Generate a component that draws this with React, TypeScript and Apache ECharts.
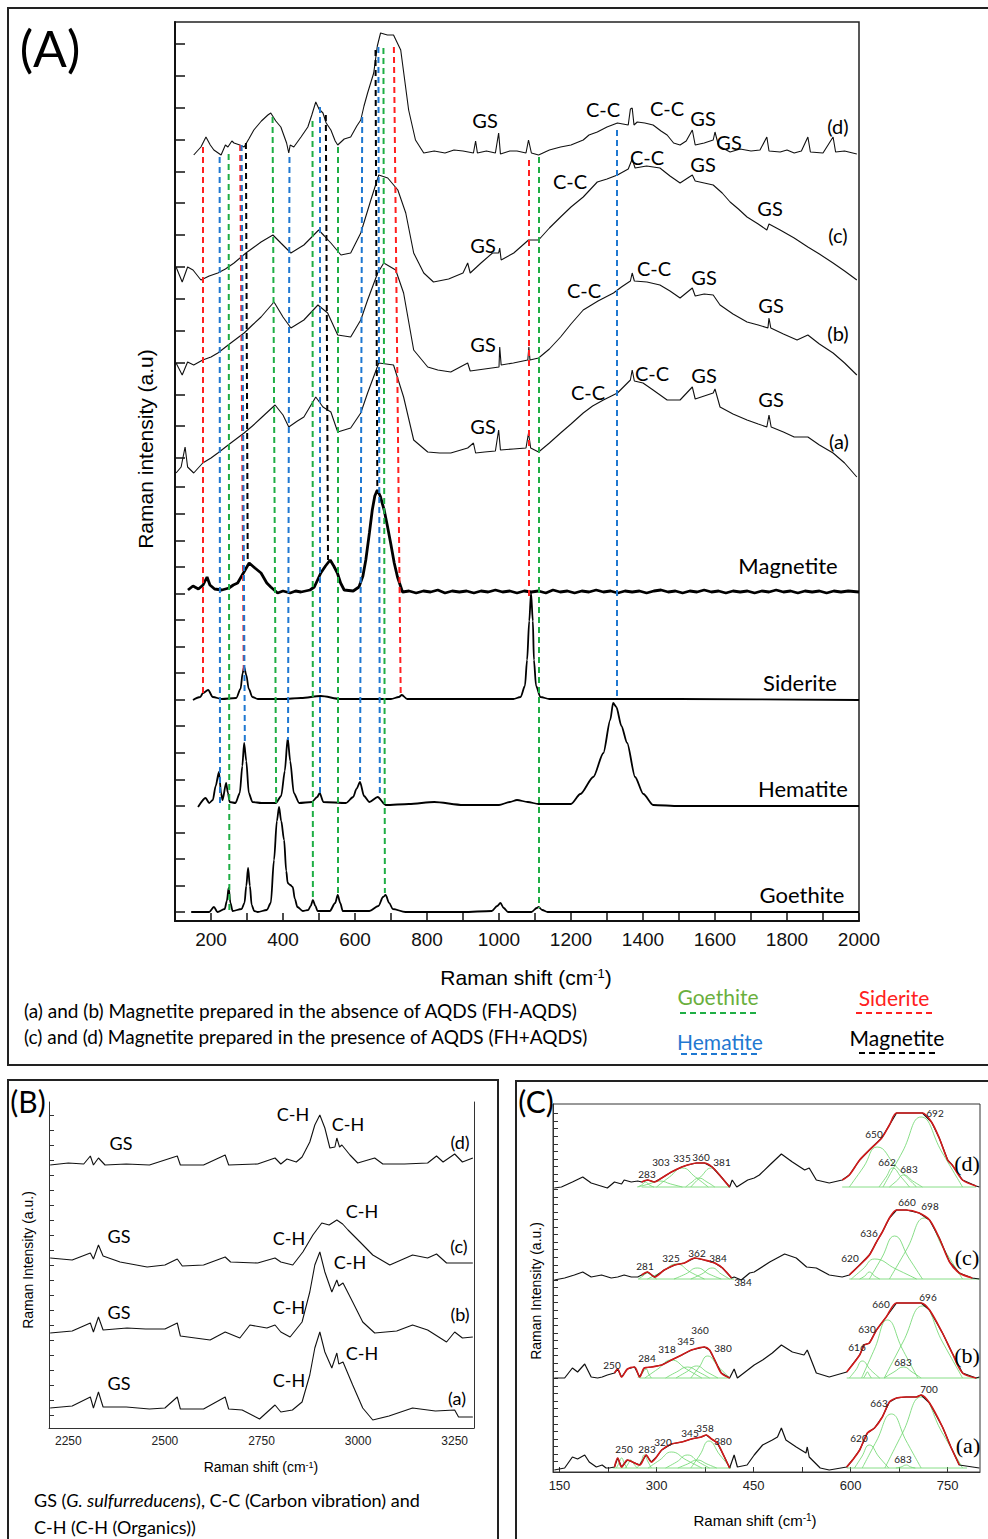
import React, { useEffect, useRef } from "react";
import * as echarts from "echarts";

// ---------------- Panel A: spectra (Raman shift cm-1, offset intensity a.u.) ----------------
const specA_d = [[152,766],[172,774],[186,784],[198,776],[208,771],[228,766],[240,776],[247,774],[258,780],[264,778],[280,776],[292,774],[305,782],[319,791],[340,800],[358,806],[366,808],[380,800],[394,794],[410,778],[416,768],[420,776],[430,774],[450,784],[469,794],[480,806],[491,819],[500,812],[511,808],[520,798],[533,791],[545,780],[552,776],[570,782],[588,784],[605,795],[616,801],[625,815],[635,828],[652,848],[662,875],[671,888],[690,886],[707,886],[727,871],[749,811],[768,781],[791,768],[820,770],[850,768],[875,771],[900,770],[929,768],[935,780],[940,768],[965,770],[990,768],[999,788],[1004,767],[1030,770],[1050,770],[1075,768],[1082,781],[1090,768],[1110,766],[1140,771],[1171,774],[1200,776],[1234,781],[1250,786],[1273,789],[1300,794],[1329,798],[1359,796],[1365,812],[1370,813],[1375,796],[1384,799],[1405,798],[1428,796],[1450,790],[1467,786],[1485,778],[1503,776],[1520,780],[1537,791],[1545,776],[1570,778],[1595,781],[1600,789],[1610,775],[1642,769],[1670,772],[1700,770],[1725,771],[1744,784],[1750,770],[1781,769],[1800,771],[1820,768],[1840,770],[1858,784],[1865,769],[1900,768],[1928,784],[1935,769],[1960,770],[1994,767]];
const specA_c = [[103,654],[120,639],[135,654],[150,651],[172,641],[195,645],[219,648],[240,652],[264,658],[297,668],[320,674],[339,679],[372,686],[394,678],[422,668],[440,672],[458,676],[480,684],[499,691],[515,685],[533,678],[561,666],[588,668],[616,688],[644,721],[666,746],[691,743],[719,731],[741,708],[763,668],[791,648],[818,639],[860,642],[900,648],[913,658],[920,648],[950,658],[982,668],[999,668],[1002,673],[1006,661],[1041,668],[1082,681],[1110,681],[1140,693],[1171,704],[1200,714],[1234,724],[1273,739],[1300,742],[1329,746],[1359,752],[1370,762],[1378,753],[1410,755],[1447,753],[1475,745],[1503,738],[1537,746],[1545,740],[1570,738],[1595,736],[1620,728],[1642,719],[1665,712],[1689,704],[1720,697],[1744,691],[1750,697],[1781,691],[1820,683],[1858,674],[1890,667],[1928,658],[1960,650],[1994,641]];
const specA_b = [[103,558],[120,546],[135,559],[152,556],[177,561],[200,564],[219,568],[255,578],[292,588],[315,596],[339,604],[375,619],[400,604],[422,593],[440,597],[458,601],[497,616],[524,608],[552,586],[570,585],[588,584],[616,601],[635,621],[663,648],[680,658],[713,651],[735,628],[763,571],[802,554],[830,551],[866,549],[913,558],[920,550],[960,552],[1000,554],[1002,574],[1006,556],[1040,558],[1080,561],[1083,574],[1086,561],[1110,563],[1140,572],[1171,584],[1200,597],[1234,611],[1275,620],[1318,628],[1340,634],[1365,640],[1370,648],[1376,640],[1411,639],[1447,636],[1475,630],[1503,623],[1537,633],[1545,625],[1570,627],[1595,626],[1614,616],[1650,607],[1689,599],[1720,596],[1747,593],[1750,603],[1755,593],[1790,587],[1828,581],[1858,586],[1890,577],[1928,568],[1960,558],[1994,546]];
const specA_a = [[103,448],[117,454],[128,474],[135,454],[152,448],[177,458],[200,463],[219,468],[255,478],[292,488],[315,495],[339,503],[378,516],[400,506],[416,494],[440,500],[458,504],[491,524],[511,514],[533,509],[552,489],[570,491],[588,493],[616,508],[635,528],[666,558],[707,556],[735,524],[763,481],[802,469],[835,468],[866,468],[913,473],[929,478],[935,468],[960,469],[990,470],[999,491],[1004,471],[1040,472],[1075,473],[1082,488],[1088,473],[1110,469],[1140,478],[1171,488],[1200,497],[1234,508],[1260,515],[1290,521],[1329,528],[1365,541],[1370,551],[1376,540],[1400,538],[1428,531],[1467,521],[1503,521],[1537,534],[1545,522],[1570,525],[1595,528],[1600,532],[1614,514],[1650,507],[1689,501],[1720,497],[1744,494],[1750,506],[1756,494],[1790,489],[1820,484],[1858,484],[1890,476],[1928,468],[1960,458],[1994,444]];
const magnetite = [[136,331],[150,335],[165,332],[178,336],[189,344],[197,336],[210,332],[230,331],[250,333],[262,336],[274,338],[290,348],[306,358],[322,353],[339,348],[355,338],[366,334],[385,328],[400,330],[420,328],[435,330],[450,329],[475,331],[487,334],[505,348],[518,355],[531,361],[541,355],[551,348],[560,338],[570,331],[595,330],[611,334],[622,345],[630,361],[640,388],[648,411],[655,425],[662,431],[670,425],[681,411],[690,395],[699,378],[709,358],[718,344],[732,329],[750,330],[770,328],[790,330],[810,329],[830,331],[850,328],[870,330],[890,329],[910,330],[930,328],[950,330],[970,329],[990,331],[1010,329],[1030,330],[1050,328],[1070,330],[1090,329],[1110,330],[1130,328],[1150,331],[1170,329],[1190,330],[1210,328],[1230,330],[1250,329],[1270,331],[1290,329],[1310,330],[1330,328],[1350,330],[1370,329],[1390,330],[1410,328],[1430,330],[1450,331],[1470,329],[1490,330],[1510,328],[1530,330],[1550,329],[1570,331],[1590,329],[1610,330],[1630,328],[1650,330],[1670,329],[1690,330],[1710,328],[1730,330],[1750,329],[1770,331],[1790,329],[1810,330],[1830,328],[1850,330],[1870,329],[1890,330],[1910,328],[1930,330],[1950,329],[1970,330],[2000,329]];
const siderite = [[150,221],[170,224],[178,228],[192,231],[205,224],[230,222],[270,223],[282,232],[288,248],[292,254],[298,246],[305,232],[315,224],[330,222],[400,222],[450,223],[505,225],[560,222],[700,222],[722,224],[730,226],[745,222],[900,222],[1040,222],[1060,224],[1072,235],[1078,261],[1084,300],[1089,328],[1094,300],[1097,261],[1103,235],[1115,224],[1140,222],[1500,222],[2000,221]];
const hematite = [[164,114],[185,123],[195,118],[205,121],[213,135],[222,149],[228,128],[232,121],[242,138],[247,128],[252,119],[268,118],[280,128],[287,155],[292,178],[298,160],[305,128],[315,119],[340,118],[380,118],[395,125],[405,150],[413,183],[420,160],[430,128],[445,118],[480,119],[495,124],[502,128],[512,119],[575,118],[595,124],[604,132],[614,139],[625,125],[640,119],[663,124],[685,116],[750,117],[820,119],[900,116],[1000,116],[1030,119],[1050,121],[1080,119],[1110,117],[1160,117],[1200,117],[1226,127],[1262,144],[1290,168],[1309,201],[1317,218],[1326,214],[1340,195],[1356,178],[1378,144],[1401,127],[1428,116],[1500,115],[2000,115]];
const goethite = [[145,9],[195,9],[208,14],[218,9],[238,12],[244,20],[249,33],[254,18],[260,10],[285,12],[293,18],[298,35],[303,53],[308,35],[313,16],[320,10],[330,9],[355,11],[366,18],[375,61],[383,100],[389,114],[395,100],[403,81],[409,50],[413,38],[420,36],[427,34],[433,22],[440,14],[455,10],[470,11],[477,15],[483,21],[490,15],[496,10],[530,10],[545,18],[552,26],[559,18],[566,10],[640,10],[665,15],[678,24],[685,26],[695,18],[705,12],[740,9],[900,9],[980,10],[995,15],[1004,18],[1013,13],[1025,9],[1090,9],[1105,13],[1110,14],[1120,11],[1135,9],[1200,9],[2000,9]];

// Peak marker lines [xTop, yTop, xBottom, yBottom]
const linesSiderite = [[177,774,177,226],[281,776,291,248],[708,874,727,224],[1083,761,1083,324]];
const linesHematite = [[224,764,225,118],[285,776,294,178],[418,764,414,181],[501,814,502,128],[620,804,614,141],[665,874,669,124],[1326,791,1326,224]];
const linesGoethite = [[249,767,251,11],[371,804,381,115],[482,800,483,21],[551,774,551,28],[679,873,683,28],[1111,764,1111,13]];
const linesMagnetite = [[297,778,302,358],[519,806,525,361],[657,871,662,431]];

const xLabelStepA = 200;

// ---------------- Panel B ----------------
const specB_d = [[2203,263],[2250,265],[2290,264],[2307,272],[2315,263],[2328,270],[2345,263],[2400,264],[2460,263],[2532,272],[2540,263],[2600,263],[2656,273],[2665,263],[2740,264],[2785,270],[2800,264],[2816,269],[2840,266],[2855,271],[2875,286],[2888,303],[2901,313],[2914,300],[2927,280],[2940,281],[2945,290],[2952,281],[2958,283],[2979,273],[2999,265],[3043,270],[3064,264],[3120,264],[3180,265],[3203,272],[3220,266],[3250,274],[3270,266],[3297,270]];
const specB_c = [[2203,170],[2260,168],[2307,175],[2315,169],[2328,183],[2340,172],[2384,166],[2454,161],[2500,163],[2532,169],[2545,162],[2600,163],[2656,171],[2670,166],[2740,165],[2785,170],[2800,166],[2831,163],[2857,176],[2883,193],[2906,205],[2925,203],[2945,208],[2960,204],[2974,198],[3005,186],[3038,173],[3082,163],[3141,173],[3180,170],[3203,174],[3229,165],[3297,165]];
const specB_b = [[2203,95],[2260,97],[2307,105],[2315,96],[2328,111],[2340,98],[2402,100],[2450,99],[2500,99],[2532,105],[2540,92],[2617,88],[2656,96],[2694,90],[2720,103],[2764,100],[2785,103],[2800,96],[2824,91],[2855,106],[2875,136],[2888,163],[2901,176],[2914,156],[2932,136],[2945,148],[2950,142],[2961,145],[2986,126],[3012,106],[3043,95],[3100,97],[3141,103],[3180,98],[3229,86],[3250,96],[3270,90],[3297,91]];
const specB_a = [[2203,20],[2260,22],[2307,31],[2315,20],[2328,36],[2340,21],[2400,21],[2460,19],[2500,20],[2532,31],[2540,19],[2600,19],[2656,31],[2665,19],[2700,18],[2745,9],[2785,23],[2800,16],[2830,18],[2855,26],[2875,53],[2888,80],[2901,96],[2914,76],[2932,60],[2945,75],[2950,64],[2961,66],[2986,43],[3012,20],[3038,8],[3080,12],[3141,20],[3200,17],[3250,18],[3260,11],[3297,11]];
const xLabelsB = [2250, 2500, 2750, 3000, 3250];

// ---------------- Panel C ----------------
const specC_d = [[142,284],[153,285],[170,290],[186,295],[199,289],[209,287],[224,284],[235,290],[246,288],[250,292],[261,290],[271,291],[277,290],[286,292],[297,290],[308,294],[323,300],[339,305],[348,307],[362,309],[374,309],[386,305],[400,295],[413,285],[417,292],[424,285],[441,292],[451,294],[459,297],[475,307],[493,318],[510,310],[529,302],[536,304],[547,292],[567,289],[587,292],[598,297],[614,312],[629,322],[648,334],[660,347],[671,359],[686,359],[711,359],[725,350],[737,334],[750,312],[757,307],[773,292],[794,286],[799,285]];
const specC_c = [[142,192],[158,194],[173,197],[186,200],[199,195],[215,197],[230,194],[240,195],[250,197],[261,195],[271,195],[277,197],[286,200],[297,195],[312,202],[328,207],[343,209],[359,214],[374,212],[390,209],[402,204],[416,194],[420,195],[431,192],[444,199],[451,200],[475,210],[498,218],[516,214],[532,205],[547,204],[567,197],[587,195],[598,197],[614,207],[629,217],[640,230],[649,240],[660,254],[671,262],[686,262],[706,259],[722,252],[737,234],[753,210],[768,199],[788,194],[799,193]];
const specC_b = [[142,94],[158,94],[170,104],[178,100],[189,108],[199,95],[209,94],[216,95],[224,97],[235,99],[240,103],[246,95],[255,103],[266,105],[274,95],[281,104],[292,105],[308,107],[323,112],[339,117],[354,122],[374,125],[382,122],[390,112],[400,99],[413,94],[420,103],[425,94],[451,107],[464,112],[479,119],[493,127],[510,120],[528,117],[533,122],[547,99],[567,95],[594,100],[614,117],[621,127],[629,129],[640,142],[655,155],[671,169],[686,169],[709,169],[722,162],[742,139],[757,119],[773,99],[794,94],[799,95]];
const specC_a = [[142,2],[158,4],[170,15],[178,13],[189,17],[196,10],[207,5],[216,7],[222,4],[227,4],[235,5],[240,14],[246,5],[255,12],[263,10],[274,7],[284,17],[292,10],[300,15],[308,22],[323,28],[339,30],[354,33],[369,35],[377,37],[385,33],[394,29],[405,15],[413,4],[420,17],[425,5],[440,7],[451,17],[464,27],[479,32],[487,35],[493,44],[500,32],[516,25],[531,19],[533,25],[536,15],[553,4],[567,2],[594,5],[603,12],[614,22],[626,39],[637,44],[649,55],[660,70],[671,74],[686,75],[701,75],[709,77],[722,69],[742,45],[755,25],[768,7],[799,4]];
// fitted ranges [from, to] of the cumulative fit (red) for each spectrum
const fitRanges = { d: [[277, 413], [587, 794]], c: [[277, 416], [598, 788]], b: [[235, 413], [594, 794]], a: [[235, 413], [594, 768]] };
// Fitted component bands (green)
const compsC = [
  [[270,285],[277,287],[283,290],[289,287],[296,285]],
  [[272,285],[288,288],[305,291],[322,288],[340,285]],
  [[300,285],[320,295],[340,304],[360,295],[380,285]],
  [[345,285],[355,290],[365,294],[378,290],[390,285]],
  [[353,285],[368,295],[385,304],[400,295],[413,285]],
  [[277,285],[413,285]],
  [[598,285],[620,305],[641,325],[671,305],[702,285]],
  [[644,285],[655,295],[665,304],[678,295],[691,285]],
  [[660,285],[671,291],[682,297],[696,291],[711,285]],
  [[650,285],[680,320],[709,355],[741,320],[773,285]],
  [[587,285],[794,285]],
  [[272,193],[279,196],[286,199],[293,196],[300,193]],
  [[286,193],[308,200],[331,208],[352,200],[374,193]],
  [[327,193],[345,198],[363,204],[381,198],[400,193]],
  [[353,193],[370,198],[386,204],[400,198],[413,193]],
  [[272,193],[420,193]],
  [[614,193],[622,196],[629,200],[637,196],[645,193]],
  [[601,193],[619,203],[637,213],[670,203],[702,193]],
  [[629,193],[648,214],[668,236],[690,214],[711,193]],
  [[660,193],[687,223],[714,254],[744,223],[773,193]],
  [[598,193],[799,193]],
  [[271,94],[277,98],[284,103],[288,98],[292,94]],
  [[282,94],[302,103],[323,112],[346,103],[370,94]],
  [[314,94],[331,100],[348,105],[365,100],[382,94]],
  [[330,94],[346,100],[362,106],[378,100],[395,94]],
  [[353,94],[366,105],[379,116],[396,105],[413,94]],
  [[274,94],[413,94]],
  [[598,94],[608,102],[618,111],[631,102],[645,94]],
  [[620,94],[623,97],[626,100],[629,97],[632,94]],
  [[617,94],[637,123],[657,152],[680,123],[704,94]],
  [[652,94],[667,100],[682,105],[695,100],[709,94]],
  [[652,94],[681,130],[711,166],[742,130],[773,94]],
  [[594,94],[799,94]],
  [[238,4],[242,9],[246,14],[250,9],[254,4]],
  [[252,4],[256,8],[260,12],[265,8],[270,4]],
  [[270,4],[276,10],[281,17],[287,10],[292,4]],
  [[287,4],[305,12],[323,20],[346,12],[370,4]],
  [[314,4],[331,10],[348,17],[365,10],[382,4]],
  [[333,4],[348,8],[363,12],[378,8],[393,4]],
  [[353,4],[367,17],[381,31],[398,17],[415,4]],
  [[232,4],[415,4]],
  [[606,4],[617,15],[629,27],[644,15],[659,4]],
  [[618,4],[640,31],[663,58],[686,31],[709,4]],
  [[670,4],[678,5],[686,7],[693,5],[700,4]],
  [[653,4],[681,40],[709,75],[741,40],[773,4]],
  [[594,4],[780,4]],
];
const xLabelsC = [150, 300, 450, 600, 750];
const xTicksC = [150, 225, 300, 375, 450, 525, 600, 675, 750];

// ---------------- Text annotations ----------------
const labelsA = [["GS",485,120],["C-C",603,109],["C-C",667,108],["GS",703,118],["GS",729,142],["(d)",838,126],
  ["GS",483,245],["C-C",570,181],["C-C",647,157],["GS",703,164],["GS",770,208],["(c)",838,235],
  ["GS",483,344],["C-C",584,290],["C-C",654,268],["GS",704,277],["GS",771,305],["(b)",838,333],
  ["GS",483,426],["C-C",588,392],["C-C",652,373],["GS",704,375],["GS",771,399],["(a)",839,441]];
const namesA = [["Magnetite",788,565],["Siderite",800,682],["Hematite",803,788],["Goethite",802,894]];
const labelsB = [["C-H",293,1114],["C-H",348,1124],["GS",121,1143],["(d)",460,1142],
  ["C-H",362,1211],["C-H",289,1238],["GS",119,1236],["(c)",459,1246],
  ["C-H",350,1262],["C-H",289,1307],["GS",119,1312],["(b)",460,1314],
  ["C-H",362,1353],["C-H",289,1380],["GS",119,1383],["(a)",457,1398]];
const labelsC = [["283",647,1174],["303",661,1162],["335",682,1158],["360",701,1157],["381",722,1162],["650",874,1134],["662",887,1162],["683",909,1169],["692",935,1113],
  ["281",645,1266],["325",671,1258],["362",697,1253],["384",718,1258],["384",743,1282],["620",850,1258],["636",869,1233],["660",907,1202],["698",930,1206],
  ["250",612,1365],["284",647,1358],["318",667,1349],["345",686,1341],["360",700,1330],["380",723,1348],["616",857,1347],["630",867,1329],["660",881,1304],["683",903,1362],["696",928,1297],
  ["250",624,1449],["283",647,1449],["320",663,1442],["345",690,1433],["358",705,1428],["380",723,1441],["620",859,1438],["663",879,1403],["683",903,1459],["700",929,1389]];
const tagsC = [["(d)",967,1163],["(c)",967,1257],["(b)",967,1355],["(a)",968,1445]];

const RED = "#ff2020";
const BLUE = "#1f78d1";
const GREEN = "#1fae45";
const CAL = "Lato, 'Open Sans', sans-serif";
const ARIAL = "'Liberation Sans', Arial, sans-serif";
const TIMES = "'Liberation Serif', 'DejaVu Serif', serif";

function txt(text: string, x: number, y: number, size: number, family: string, color = "#000", extra: any = {}) {
  return {
    type: "text", x, y, silent: true, z: 100,
    style: { text, fontSize: size, fontFamily: family, fill: color, align: "center", verticalAlign: "middle", textAlign: "center", textVerticalAlign: "middle", ...extra },
  };
}
function dline(x1: number, y1: number, x2: number, y2: number, color: string) {
  return { type: "line", silent: true, z: 100, shape: { x1, y1, x2, y2 }, style: { stroke: color, lineWidth: 2, lineDash: [6, 4] } };
}
function rect(x: number, y: number, w: number, h: number) {
  return { type: "rect", silent: true, z: 90, shape: { x, y, width: w, height: h }, style: { fill: "none", stroke: "#222", lineWidth: 2 } };
}
function ln(data: number[][], xi: number, yi: number, color: string, width: number, extra: any = {}) {
  return { type: "line", data, xAxisIndex: xi, yAxisIndex: yi, showSymbol: false, symbol: "none", silent: true, animation: false, lineStyle: { color, width }, emphasis: { disabled: true }, ...extra };
}
function marks(lines: number[][], color: string) {
  return {
    symbol: ["none", "none"], silent: true, animation: false, label: { show: false }, emphasis: { disabled: true },
    lineStyle: { color, width: 2, type: [6, 4] },
    data: lines.map(([x1, y1, x2, y2]) => [{ coord: [x1, y1] }, { coord: [x2, y2] }]),
  };
}
const inRange = (d: number[][], r: number[]) => d.filter((p) => p[0] >= r[0] && p[0] <= r[1]);

function buildOption() {
  const ticksA: number[] = [];
  for (let k = 0; k <= 16; k++) ticksA.push(9 + 26.55 * k);
  for (let k = 0; k <= 13; k++) ticksA.push(463 + 31.85 * k);
  const ticksB: number[] = [];
  for (let k = 0; k <= 20; k++) ticksB.push(13 + 15 * k);
  const ticksC: number[] = [];
  for (let k = 0; k <= 46; k++) ticksC.push(10.3 + 7.57 * k);

  const supRich = (s: number) => ({ sup: { fontSize: s, verticalAlign: "top", fontFamily: ARIAL } });

  const series: any[] = [
    ln(specA_d, 0, 0, "#111", 1.1),
    ln(specA_c, 0, 0, "#111", 1.1),
    ln(specA_b, 0, 0, "#111", 1.1),
    ln(specA_a, 0, 0, "#111", 1.1),
    ln(magnetite, 0, 0, "#000", 2.8, { markLine: marks(linesMagnetite, "#000") }),
    ln(siderite, 0, 0, "#000", 1.8, { smooth: 0.3, smoothMonotone: "x", markLine: marks(linesSiderite, RED) }),
    ln(hematite, 0, 0, "#000", 1.8, { smooth: 0.25, smoothMonotone: "x", markLine: marks(linesHematite, BLUE) }),
    ln(goethite, 0, 0, "#000", 1.8, { smooth: 0.3, smoothMonotone: "x", markLine: marks(linesGoethite, GREEN) }),
    ln(specB_d, 1, 1, "#111", 1.1),
    ln(specB_c, 1, 1, "#111", 1.1),
    ln(specB_b, 1, 1, "#111", 1.1),
    ln(specB_a, 1, 1, "#111", 1.1),
  ];
  compsC.forEach((c) => series.push(ln(c, 2, 2, "#6ad66a", 0.8, { smooth: c.length > 2 ? 0.5 : false, z: 2 })));
  const cs: [string, number[][]][] = [["d", specC_d], ["c", specC_c], ["b", specC_b], ["a", specC_a]];
  cs.forEach(([k, d]) => {
    series.push(ln(d, 2, 2, "#111", 1.2, { z: 3 }));
    (fitRanges as any)[k].forEach((r: number[]) => series.push(ln(inRange(d, r), 2, 2, "#d11a1a", 1.6, { z: 4, smooth: 0.3 })));
  });

  const graphic: any[] = [
    rect(8, 8, 992, 1057),
    rect(8, 1080, 490, 470),
    rect(516, 1081, 480, 470),
    txt("(A)", 50, 48, 50, CAL),
    txt("(B)", 28, 1101, 30, CAL),
    txt("(C)", 536, 1101, 30, CAL),
    txt("Raman intensity (a.u)", 145, 449, 21, ARIAL),
    txt("Raman shift (cm{sup|-1})", 526, 977, 21, ARIAL, "#000", { rich: supRich(13) }),
    txt("(a) and (b) Magnetite prepared in the absence of AQDS (FH-AQDS)", 24, 1010, 19, CAL, "#000", { align: "left", textAlign: "left" }),
    txt("(c) and (d) Magnetite prepared in the presence of AQDS (FH+AQDS)", 24, 1036, 19, CAL, "#000", { align: "left", textAlign: "left" }),
    txt("Goethite", 718, 996, 21, CAL, "#6aaf3d"),
    dline(680, 1013, 758, 1013, GREEN),
    txt("Siderite", 894, 997, 21, CAL, RED),
    dline(856, 1013, 934, 1013, RED),
    txt("Hematite", 720, 1041, 21, CAL, BLUE),
    dline(681, 1054, 759, 1054, BLUE),
    txt("Magnetite", 897, 1037, 21, CAL, "#000"),
    dline(859, 1053, 937, 1053, "#000"),
    txt("Raman shift (cm{sup|-1})", 261, 1467, 14, ARIAL, "#000", { rich: supRich(9) }),
    txt("Raman Intensity (a.u.)", 28, 1260, 14, ARIAL),
    txt("GS ({i|G. sulfurreducens}), C-C (Carbon vibration) and", 34, 1500, 18, CAL, "#000", { align: "left", textAlign: "left", rich: { i: { fontStyle: "italic", fontSize: 18, fontFamily: CAL } } }),
    txt("C-H (C-H (Organics))", 34, 1527, 18, CAL, "#000", { align: "left", textAlign: "left" }),
    txt("Raman shift (cm{sup|-1})", 755, 1520, 15, ARIAL, "#000", { rich: supRich(10) }),
    txt("Raman Intensity (a.u.)", 536, 1291, 14, ARIAL),
  ];
  // rotate y-axis names
  graphic[6].rotation = Math.PI / 2;
  graphic[19].rotation = Math.PI / 2;
  graphic[23].rotation = Math.PI / 2;
  labelsA.forEach(([t, x, y]) => graphic.push(txt(t as string, x as number, y as number, 20, CAL)));
  namesA.forEach(([t, x, y]) => graphic.push(txt(t as string, x as number, y as number, 22, CAL)));
  labelsB.forEach(([t, x, y]) => graphic.push(txt(t as string, x as number, y as number, 18, CAL)));
  labelsC.forEach(([t, x, y]) => graphic.push(txt(t as string, x as number, y as number, 10, CAL, "#222")));
  tagsC.forEach(([t, x, y]) => graphic.push(txt(t as string, x as number, y as number, 22, TIMES)));

  const noSplit = { splitLine: { show: false } };
  const plain = (v: number) => String(v);
  return {
    animation: false,
    backgroundColor: "#fff",
    grid: [
      { left: 175, top: 22, width: 684, height: 899, show: true, borderColor: "#222", borderWidth: 1.5 },
      { left: 49, top: 1102, width: 425, height: 326 },
      { left: 553, top: 1104, width: 427, height: 368, show: true, borderColor: "#333", borderWidth: 1 },
    ],
    xAxis: [
      {
        type: "value", gridIndex: 0, min: 100, max: 2000, interval: 100, ...noSplit,
        axisLine: { lineStyle: { color: "#111", width: 2 } },
        axisTick: { inside: true, length: 8, lineStyle: { color: "#111", width: 1.5 } },
        axisLabel: { margin: 9, fontSize: 19, fontFamily: ARIAL, color: "#111", formatter: (v: number) => (v % xLabelStepA === 0 ? String(v) : "") },
      },
      {
        type: "value", gridIndex: 1, min: 2200, max: 3300, ...noSplit,
        axisLine: { lineStyle: { color: "#333", width: 1 } },
        axisTick: { show: false },
        axisLabel: { customValues: xLabelsB, formatter: plain, margin: 7, fontSize: 12, fontFamily: ARIAL, color: "#222" },
      },
      {
        type: "value", gridIndex: 2, min: 140, max: 800, ...noSplit,
        axisLine: { lineStyle: { color: "#333", width: 1 } },
        axisTick: { inside: true, length: 5, customValues: xTicksC, lineStyle: { color: "#333" } },
        axisLabel: { customValues: xLabelsC, formatter: plain, margin: 7, fontSize: 13, fontFamily: ARIAL, color: "#222" },
      },
    ],
    yAxis: [
      {
        type: "value", gridIndex: 0, min: 0, max: 899, ...noSplit,
        axisLine: { show: true, lineStyle: { color: "#111", width: 2 } },
        axisTick: { show: true, inside: true, length: 10, customValues: ticksA, lineStyle: { color: "#111", width: 1.5 } },
        axisLabel: { show: false },
      },
      {
        type: "value", gridIndex: 1, min: 0, max: 326, ...noSplit,
        axisLine: { show: true, lineStyle: { color: "#333", width: 1 } },
        axisTick: { show: true, inside: true, length: 5, customValues: ticksB, lineStyle: { color: "#333" } },
        axisLabel: { show: false },
      },
      {
        type: "value", gridIndex: 2, min: 0, max: 368, ...noSplit,
        axisLine: { show: true, lineStyle: { color: "#333", width: 1 } },
        axisTick: { show: true, inside: true, length: 5, customValues: ticksC, lineStyle: { color: "#333" } },
        axisLabel: { show: false },
      },
      {
        type: "value", gridIndex: 1, position: "right", min: 0, max: 326, ...noSplit,
        axisLine: { show: true, lineStyle: { color: "#333", width: 1 } },
        axisTick: { show: false },
        axisLabel: { show: false },
      },
    ],
    series,
    graphic,
  };
}

export default function App() {
  const ref = useRef<HTMLDivElement>(null);
  useEffect(() => {
    const chart = echarts.init(ref.current!, null, { renderer: "svg" });
    chart.setOption(buildOption() as any);
    return () => chart.dispose();
  }, []);
  return <div ref={ref} style={{ position: "absolute", left: 0, top: 0, width: 988, height: 1539, background: "#fff" }} />;
}
